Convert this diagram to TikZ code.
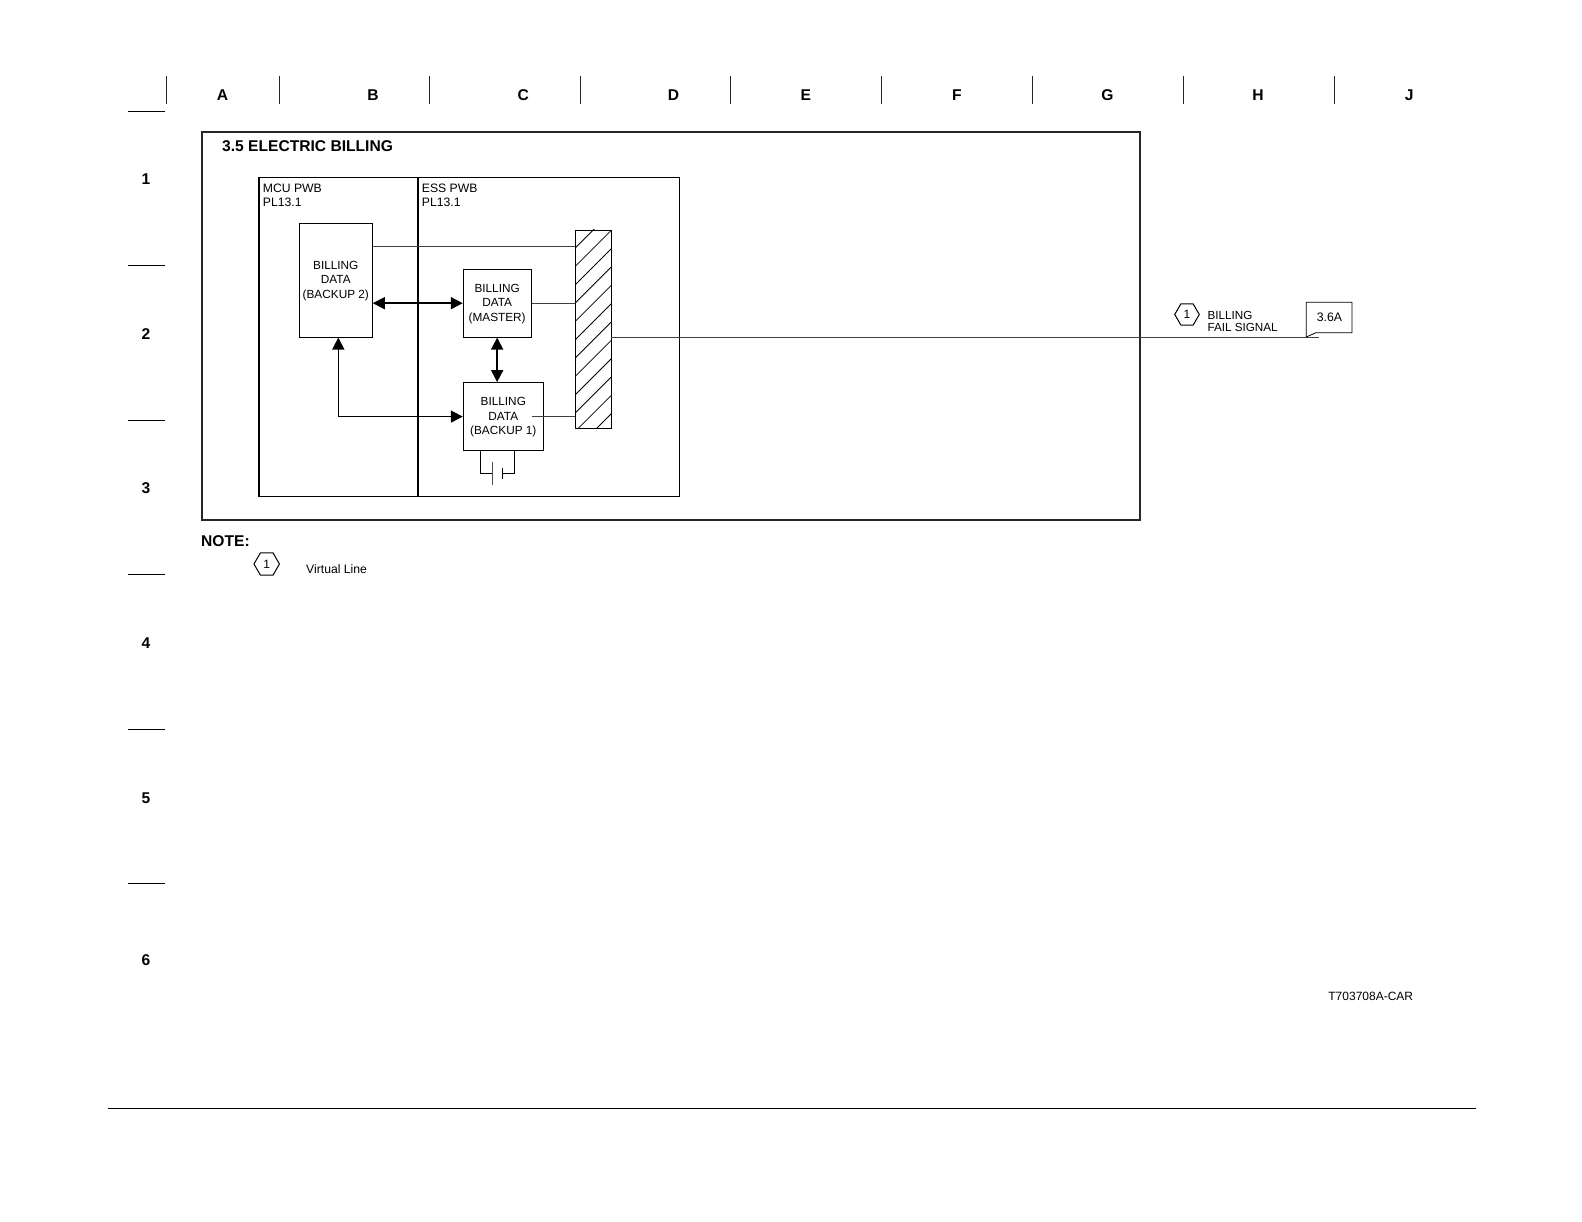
\documentclass[tikz,border=0pt]{standalone}
\usepackage{fontspec}
\setmainfont{Liberation Sans}
\usetikzlibrary{arrows.meta, shapes.geometric}
\tikzset{x=1pt, y=-1pt,
>={Triangle[length=12pt, width=12pt]}, % solid heads on the data links
every node/.style={inner sep=0pt, align=center, font=\fontsize{11.8}{14.3}\selectfont}, % labels in the boxes
sheetmark/.style={font=\fontsize{15.6}{18}\selectfont\bfseries}, % letters, numbers and headings
boardtext/.style={align=left, anchor=west, font=\fontsize{12.2}{14.3}\selectfont}, % board names, top left of each board
databox/.style={draw, line width=1pt, text depth=1pt}, % a billing data store
wire/.style={line width=1pt, black!75}, % thin signal lines
link/.style={<->, line width=1.6pt}, % data links between stores
flag/.style={draw, regular polygon, regular polygon sides=6, minimum size=24.5pt, line width=1pt, font=\fontsize{12}{12}\selectfont}, % note flag
}
\begin{document}
\begin{tikzpicture}
    \useasboundingbox (0,0) rectangle (1582,1222);

    \node[sheetmark] (colA) at (222.5,95) {A};
    \node[sheetmark] (colB) at (373,95) {B};
    \node[sheetmark] (colC) at (523.3,95) {C};
    \node[sheetmark] (colD) at (673.6,95) {D};
    \node[sheetmark] (colE) at (805.9,95) {E};
    \node[sheetmark] (colF) at (957,95) {F};
    \node[sheetmark] (colG) at (1107.4,95) {G};
    \node[sheetmark] (colH) at (1258,95) {H};
    \node[sheetmark] (colJ) at (1409.3,95) {J};
    \node[sheetmark] (row1) at (146,179.2) {1};
    \node[sheetmark] (row2) at (146,334) {2};
    \node[sheetmark] (row3) at (146,488.6) {3};
    \node[sheetmark] (row4) at (146,643) {4};
    \node[sheetmark] (row5) at (146,797.8) {5};
    \node[sheetmark] (row6) at (146,960.5) {6};
    \draw[line width=1.4pt, black!85] (166.5,75.7) -- (166.5,104) (279.5,75.7) -- (279.5,104)
    (429.5,75.7) -- (429.5,104) (580.5,75.7) -- (580.5,104) (730.5,75.7) -- (730.5,104)
    (881.5,75.7) -- (881.5,104) (1032.5,75.7) -- (1032.5,104) (1183.5,75.7) -- (1183.5,104)
    (1334.5,75.7) -- (1334.5,104);
    \draw[line width=1pt] (128,111.5) -- (164.5,111.5) (128,265.5) -- (164.5,265.5)
    (128,420.5) -- (164.5,420.5) (128,574.5) -- (164.5,574.5) (128,729.5) -- (164.5,729.5)
    (128,883.5) -- (164.5,883.5) (108,1108.5) -- (1476,1108.5);

    \node[draw, line width=2.4pt, black!85, minimum width=937.5pt, minimum height=388pt] (frame) at (671,326) {};
    \node[sheetmark, anchor=west] (title) at (222,146.5) {3.5 ELECTRIC BILLING};
    \node[draw, line width=1.1pt, minimum width=159pt, minimum height=318.6pt] (mcu) at (338.5,337) {};
    \node[draw, line width=1.1pt, minimum width=261.3pt, minimum height=318.6pt] (ess) at (548.65,337) {};
    \node[boardtext] (mcutext) at (262.7,195.5) {MCU PWB\\PL13.1};
    \node[boardtext] (esstext) at (421.7,195.5) {ESS PWB\\PL13.1};

    \node[databox, minimum width=73pt, minimum height=113.7pt] (backup2) at (335.8,280.2) {BILLING\\DATA\\(BACKUP 2)};
    \node[databox, minimum width=67.7pt, minimum height=67.7pt] (master) at (497.15,303.2) {BILLING\\DATA\\(MASTER)};
    \node[databox, minimum width=80pt, minimum height=68pt] (backup1) at (503.3,416.6) {BILLING\\DATA\\(BACKUP 1)};

    \begin{scope}
        \clip (575,230) rectangle (611,428.3);
        \foreach \k in {0,...,11}
            \draw[line width=.8pt] (575,248.3+18.33*\k) -- (611,212.3+18.33*\k);
    \end{scope}
    \node[draw, line width=.9pt, minimum width=36pt, minimum height=198.3pt] (hatchbar) at (593,329.15) {};

    \draw[wire] (backup2.east |- 0,246.5) edge (hatchbar.west |- 0,246.5)
    (master.east) edge (hatchbar.west |- master.east)
    (master.east |- backup1.west) edge (hatchbar.west |- backup1.west);
    \draw[link] (backup2.east |- master.west) -- (master.west);
    \draw[link] (master.south) -- (master.south |- backup1.north);
    \draw[link] (338.3,0 |- backup2.south) |- (backup1.west);

    \coordinate (plateA) at (492.7,473.3);
    \coordinate (plateB) at (502.3,473.3);
    \draw[line width=.9pt] (480.3,0 |- backup1.south) |- (plateA);
    \draw[line width=.9pt] (514.3,0 |- backup1.south) |- (plateB);
    \draw[line width=1.1pt, black!70] (492.7,462.3) -- (492.7,485);
    \draw[line width=1pt] (502.3,468.3) -- (502.3,479.3);

    \coordinate (wireend) at (1319,337.2);
    \node[flag] (flagsignal) at (1187,314.5) {1};
    \node[boardtext, font=\fontsize{11.7}{12.3}\selectfont] (signaltext) at (1207.3,321.5) {BILLING\\FAIL SIGNAL};
    \node[font=\fontsize{12.3}{14}\selectfont] (sheetref) at (1329.5,317) {3.6A};
    \draw[wire] (hatchbar.east |- wireend) -- (wireend);
    \draw[line width=.8pt] (1306.3,337) -- (1306.3,302.3) -- (1352,302.3) -- (1352,332.7) -- (1316,332.7) -- cycle;

    \node[sheetmark, anchor=west] (note) at (201,541) {NOTE:};
    \node[flag, minimum size=25.5pt] (flagnote) at (266.7,564) {1};
    \node[anchor=west, font=\fontsize{12.2}{14}\selectfont] (notetext) at (306,569) {Virtual Line};
    \node[anchor=east, font=\fontsize{12}{14}\selectfont] (drawingno) at (1413.3,996.8) {T703708A-CAR};
  \end{tikzpicture}
\end{document}
